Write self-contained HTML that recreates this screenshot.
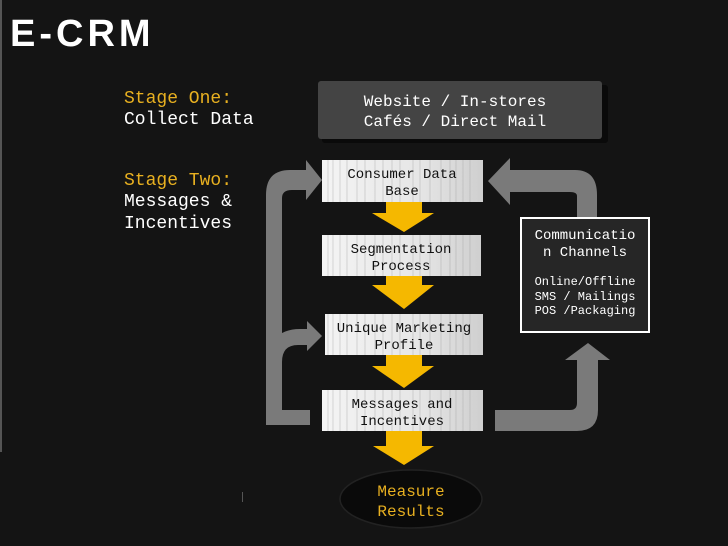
<!DOCTYPE html>
<html><head><meta charset="utf-8"><style>
html,body{margin:0;padding:0;background:#141414;}
svg{display:block;}
text{font-family:"Liberation Mono",monospace;}
</style></head><body>
<svg width="728" height="546" viewBox="0 0 728 546" xmlns="http://www.w3.org/2000/svg">
<defs>
<linearGradient id="g" x1="0" y1="0" x2="1" y2="0">
<stop offset="0" stop-color="#f4f4f4"/><stop offset="0.6" stop-color="#e6e6e6"/><stop offset="1" stop-color="#cfcfcf"/>
</linearGradient>
<pattern id="stripes" width="160" height="50" patternUnits="userSpaceOnUse">
<path d="M8 0V50M13 0V50M20 0V50M27 0V50M37 0V50M45 0V50M55 0V50M63 0V50M72 0V50M80 0V50M93 0V50M100 0V50M110 0V50M121 0V50M130 0V50M136 0V50M143 0V50M150 0V50" stroke="#9a9a9a" stroke-width="0.6" opacity="0.6"/>
</pattern>
</defs>
<rect width="728" height="546" fill="#141414"/>
<rect x="0" y="0" width="2" height="452" fill="#555"/>
<text x="10" y="46" fill="#fff" font-size="38" font-weight="bold" style="font-family:'Liberation Sans',sans-serif" letter-spacing="4">E-CRM</text>

<text x="124" y="103" fill="#e8b020" font-size="18">Stage One:</text>
<text x="124" y="124" fill="#fff" font-size="18">Collect Data</text>
<text x="124" y="185" fill="#e8b020" font-size="18">Stage Two:</text>
<text x="124" y="206" fill="#fff" font-size="18">Messages &amp;</text>
<text x="124" y="228" fill="#fff" font-size="18">Incentives</text>

<rect x="322" y="85" width="286" height="58" rx="3" fill="#0a0a0a"/>
<rect x="318" y="81" width="284" height="58" rx="3" fill="#444"/>
<text x="455" y="106" fill="#fff" font-size="16" text-anchor="middle">Website / In-stores</text>
<text x="455" y="126" fill="#fff" font-size="16" text-anchor="middle">Cafés / Direct Mail</text>

<g fill="#7a7a7a">
<path d="M266 425 V195 Q266 170 290 170 H306 V160 L322 180 L306 200 V190 H292 Q282 190 282 198 V410 H310 V425 Z"/>
<path d="M266 370 Q266 329 300 329 H307 V321 L322 336 L307 351 V345 H298 Q282 345 282 362 Z"/>
<path d="M495 410 H570 Q577 410 577 403 V360 H565 L588 343 L610 360 H598 V410 Q598 431 577 431 H495 Z"/>
<path d="M577 218 V196 Q577 192 570 192 H510 V205 L488 181 L510 158 V170 H575 Q597 170 597 195 V218 Z"/>
</g>

<g fill="#f5b800">
<path d="M386 202 H422 V213 H434 L404 232 L372 213 H386 Z"/>
<path d="M386 276 H422 V285 H434 L404 309 L372 285 H386 Z"/>
<path d="M386 355 H422 V366 H434 L404 388 L372 366 H386 Z"/>
<path d="M386 431 H422 V446 H434 L404 465 L373 446 H386 Z"/>
</g>

<g>
<rect x="322" y="160" width="161" height="42" fill="url(#g)"/><rect x="322" y="160" width="161" height="42" fill="url(#stripes)"/>
<text x="402" y="178" font-size="14" text-anchor="middle" fill="#111">Consumer Data</text>
<text x="402" y="195" font-size="14" text-anchor="middle" fill="#111">Base</text>
<rect x="322" y="235" width="159" height="41" fill="url(#g)"/><rect x="322" y="235" width="159" height="41" fill="url(#stripes)"/>
<text x="401" y="253" font-size="14" text-anchor="middle" fill="#111">Segmentation</text>
<text x="401" y="270" font-size="14" text-anchor="middle" fill="#111">Process</text>
<rect x="325" y="314" width="158" height="41" fill="url(#g)"/><rect x="325" y="314" width="158" height="41" fill="url(#stripes)"/>
<text x="404" y="332" font-size="14" text-anchor="middle" fill="#111">Unique Marketing</text>
<text x="404" y="349" font-size="14" text-anchor="middle" fill="#111">Profile</text>
<rect x="322" y="390" width="161" height="41" fill="url(#g)"/><rect x="322" y="390" width="161" height="41" fill="url(#stripes)"/>
<text x="402" y="408" font-size="14" text-anchor="middle" fill="#111">Messages and</text>
<text x="402" y="425" font-size="14" text-anchor="middle" fill="#111">Incentives</text>
</g>

<ellipse cx="411" cy="499" rx="71" ry="29" fill="#0a0a0a" stroke="#222" stroke-width="1.5"/>
<text x="411" y="496" font-size="16" text-anchor="middle" fill="#e8b020">Measure</text>
<text x="411" y="516" font-size="16" text-anchor="middle" fill="#e8b020">Results</text>

<rect x="521" y="218" width="128" height="114" fill="#262626" stroke="#fff" stroke-width="2"/>
<text x="585" y="239" font-size="14" text-anchor="middle" fill="#fff">Communicatio</text>
<text x="585" y="256" font-size="14" text-anchor="middle" fill="#fff">n Channels</text>
<text x="585" y="285" font-size="12" text-anchor="middle" fill="#fff">Online/Offline</text>
<text x="585" y="300" font-size="12" text-anchor="middle" fill="#fff">SMS / Mailings</text>
<text x="585" y="314" font-size="12" text-anchor="middle" fill="#fff">POS /Packaging</text>
<rect x="242" y="492" width="1" height="10" fill="#555"/>
</svg>
</body></html>
